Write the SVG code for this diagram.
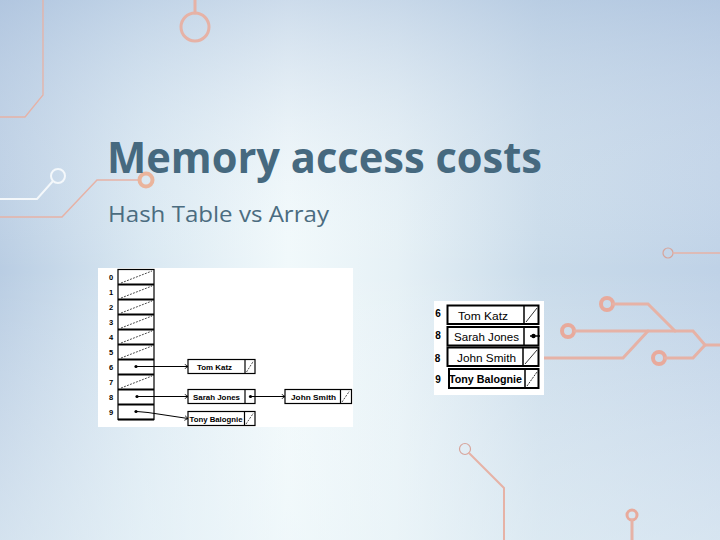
<svg xmlns="http://www.w3.org/2000/svg" width="720" height="540" viewBox="0 0 720 540">
<defs>
<linearGradient id="bg" x1="0" y1="0" x2="1" y2="0">
<stop offset="0" stop-color="#b9cde3"/>
<stop offset="0.2" stop-color="#d9e8f2"/>
<stop offset="0.4" stop-color="#f1f9fb"/>
<stop offset="0.55" stop-color="#e6f1f6"/>
<stop offset="0.75" stop-color="#c9dbea"/>
<stop offset="1" stop-color="#bfd2e7"/>
</linearGradient>
<linearGradient id="fade" x1="0" y1="0" x2="0" y2="1">
<stop offset="0" stop-color="#a9bfdc" stop-opacity="0.5"/>
<stop offset="0.5" stop-color="#ffffff" stop-opacity="0"/>
<stop offset="1" stop-color="#eef7fa" stop-opacity="0.5"/>
</linearGradient>
<marker id="arr" viewBox="0 0 6 8" refX="5.5" refY="4" markerWidth="4" markerHeight="5.5" orient="auto" markerUnits="userSpaceOnUse">
<path d="M0.5,0.5 L5.5,4 L0.5,7.5" fill="none" stroke="#000" stroke-width="1.2"/>
</marker>
</defs>
<style>
.deco{fill:none;stroke:#e6b2a6;stroke-linecap:round}
.thin{stroke-width:1.5}
.thick{stroke-width:3.5}
.cell{fill:#fff;stroke:#000;stroke-width:1.2}
.rcell{fill:#fff;stroke:#000;stroke-width:2}
.sep{stroke:#000;stroke-width:1.2}
.nil{stroke:#000;stroke-width:0.7;stroke-dasharray:2 1.2}
.lt{font-family:"Liberation Sans",Arial,sans-serif;font-size:7.5px;font-weight:bold;fill:#000}
.rt{font-family:"Liberation Sans",Arial,sans-serif;font-size:10.5px;fill:#000}
.dg{font-family:"Liberation Sans",Arial,sans-serif;font-size:7.5px;font-weight:bold;fill:#000;text-anchor:middle}
.rd{font-family:"Liberation Sans",Arial,sans-serif;font-size:10px;font-weight:bold;fill:#000;text-anchor:middle}
.con{fill:none;stroke:#000;stroke-width:1}
</style>
<rect width="720" height="540" fill="url(#bg)"/>
<rect width="720" height="540" fill="url(#fade)"/>

<g id="decorations">
<path class="deco" stroke-width="1.3" stroke="#d9b6ae" d="M43,0 V95 L25,117 H0"/>
<path class="deco" stroke-width="3" d="M195,0 V13" stroke="#f0d2c6"/>
<circle class="deco" cx="195" cy="27" r="14" stroke="#f0d2c6" stroke-width="3"/>
<circle cx="58" cy="176" r="7" fill="none" stroke="#f4f8fb" stroke-width="2"/>
<path d="M53,181 L37,199 H0" fill="none" stroke="#f4f8fb" stroke-width="2"/>
<path class="deco thin" d="M0,217 H62 L97,180 H139" stroke="#e3c3b8"/>
<circle cx="146" cy="180" r="6.5" fill="none" stroke="#eab49c" stroke-width="4"/>
<circle cx="668" cy="253" r="5" fill="none" stroke="#d7a59c" stroke-width="1.2"/>
<path class="deco thin" d="M673,253 H720"/>
<circle cx="607" cy="304" r="6" fill="none" stroke="#e8aa9c" stroke-width="4"/>
<path class="deco" stroke-width="3" d="M613,304 H648 L675,331"/>
<circle cx="568" cy="331" r="6" fill="none" stroke="#e8aa9c" stroke-width="4"/>
<path class="deco" stroke-width="3" d="M575,331 H693 L705,345 H720"/>
<path class="deco" stroke-width="3" d="M544,358 H623 L648,331"/>
<circle cx="659" cy="358" r="6" fill="none" stroke="#e8aa9c" stroke-width="4"/>
<path class="deco" stroke-width="3" d="M665,358 H693 L705,345"/>
<circle cx="465" cy="449" r="5.5" fill="none" stroke="#d7a59c" stroke-width="1.2"/>
<path class="deco" stroke-width="2" stroke="#e3bdb3" d="M469,453 L504,488 V540"/>
<circle cx="632" cy="515" r="5" fill="none" stroke="#e8aa9c" stroke-width="3"/>
<path class="deco" stroke-width="3" d="M632,520 V540"/>
</g>

<g id="title">
<text x="107" y="173" font-family="'Open Sans','Noto Sans',sans-serif" font-weight="bold" font-size="43" fill="#46697f" textLength="435" lengthAdjust="spacingAndGlyphs">Memory access costs</text>
<text x="108" y="222" font-family="'Open Sans','Noto Sans',sans-serif" font-size="22" fill="#4b6c80" textLength="221" lengthAdjust="spacingAndGlyphs">Hash Table vs Array</text>
</g>

<g id="hash-table">
<rect x="98" y="268" width="255" height="159" fill="#fff"/>
<rect x="118" y="269.5" width="36" height="150" class="cell"/>
<g stroke="#000" stroke-width="2">
<line x1="118" y1="284.5" x2="154" y2="284.5"/>
<line x1="118" y1="299.5" x2="154" y2="299.5"/>
<line x1="118" y1="314.5" x2="154" y2="314.5"/>
<line x1="118" y1="329.5" x2="154" y2="329.5"/>
<line x1="118" y1="344.5" x2="154" y2="344.5"/>
<line x1="118" y1="359.5" x2="154" y2="359.5"/>
<line x1="118" y1="374.5" x2="154" y2="374.5"/>
<line x1="118" y1="389.5" x2="154" y2="389.5"/>
<line x1="118" y1="404.5" x2="154" y2="404.5"/>
<line x1="118" y1="419.5" x2="154" y2="419.5"/>
</g>
<g class="nil">
<line x1="121" y1="283" x2="152" y2="271"/>
<line x1="121" y1="298" x2="152" y2="286"/>
<line x1="121" y1="313" x2="152" y2="301"/>
<line x1="121" y1="328" x2="152" y2="316"/>
<line x1="121" y1="343" x2="152" y2="331"/>
<line x1="121" y1="358" x2="152" y2="346"/>
<line x1="121" y1="388" x2="152" y2="376"/>
</g>
<circle cx="136" cy="366.5" r="1.6"/>
<circle cx="137" cy="396.5" r="1.6"/>
<circle cx="136" cy="411.5" r="1.6"/>
<text class="dg" x="111" y="280">0</text>
<text class="dg" x="111" y="295">1</text>
<text class="dg" x="111" y="310">2</text>
<text class="dg" x="111" y="325">3</text>
<text class="dg" x="111" y="340">4</text>
<text class="dg" x="111" y="355">5</text>
<text class="dg" x="111" y="370">6</text>
<text class="dg" x="111" y="385">7</text>
<text class="dg" x="111" y="400">8</text>
<text class="dg" x="111" y="415">9</text>
</g>

<g id="node-tom-katz">
<rect x="188" y="359.5" width="67" height="14" class="cell"/>
<line x1="245" y1="359.5" x2="245" y2="373.5" class="sep"/>
<line x1="246.5" y1="372" x2="253.5" y2="361" class="nil"/>
<text class="lt" x="197" y="369.5" textLength="35" lengthAdjust="spacingAndGlyphs">Tom Katz</text>
</g>
<g id="node-sarah-jones">
<rect x="188" y="389.5" width="67" height="14" class="cell"/>
<line x1="245" y1="389.5" x2="245" y2="403.5" class="sep"/>
<circle cx="250.5" cy="396.5" r="1.6"/>
<text class="lt" x="193" y="399.5" textLength="47" lengthAdjust="spacingAndGlyphs">Sarah Jones</text>
</g>
<g id="node-john-smith">
<rect x="285" y="389.5" width="66.5" height="14" class="cell"/>
<line x1="340.5" y1="389.5" x2="340.5" y2="403.5" class="sep"/>
<line x1="342" y1="402" x2="349.5" y2="391" class="nil"/>
<text class="lt" x="291" y="399.5" textLength="45" lengthAdjust="spacingAndGlyphs">John Smith</text>
</g>
<g id="node-tony-balognie">
<rect x="188" y="411.5" width="67" height="14" class="cell"/>
<line x1="244.5" y1="411.5" x2="244.5" y2="425.5" class="sep"/>
<line x1="246" y1="424" x2="253.5" y2="413" class="nil"/>
<text class="lt" x="189.5" y="421.5" textLength="53" lengthAdjust="spacingAndGlyphs">Tony Balognie</text>
</g>

<g id="connectors">
<line x1="137" y1="366.5" x2="188" y2="366.5" class="con" marker-end="url(#arr)"/>
<line x1="138" y1="396.5" x2="188" y2="396.5" class="con" marker-end="url(#arr)"/>
<line x1="251.5" y1="396.5" x2="285" y2="396.5" class="con" marker-end="url(#arr)"/>
<polyline points="137,411.5 148,412.5 188,418.5" class="con" marker-end="url(#arr)"/>
</g>

<g id="array">
<rect x="434" y="301" width="110" height="94" fill="#fff"/>
<text class="rd" x="438" y="317">6</text>
<text class="rd" x="438" y="339">8</text>
<text class="rd" x="437.5" y="361.5">8</text>
<text class="rd" x="438" y="383">9</text>
</g>
<g id="array-tom-katz">
<rect x="447.5" y="305.5" width="91" height="18.5" class="rcell"/>
<line x1="524" y1="305.5" x2="524" y2="324" stroke="#000" stroke-width="1.5"/>
<line x1="526" y1="322" x2="537" y2="308" stroke="#000" stroke-width="0.8"/>
<text class="rt" x="458" y="320" textLength="50" lengthAdjust="spacingAndGlyphs">Tom Katz</text>
</g>
<g id="array-sarah-jones">
<rect x="447.5" y="327" width="91" height="18.5" class="rcell"/>
<line x1="524" y1="327" x2="524" y2="345.5" stroke="#000" stroke-width="1.5"/>
<circle cx="533.5" cy="336" r="2.2"/>
<line x1="530" y1="336" x2="540" y2="336" stroke="#000" stroke-width="1.5"/>
<text class="rt" x="454" y="341" textLength="65" lengthAdjust="spacingAndGlyphs">Sarah Jones</text>
</g>
<g id="array-john-smith">
<rect x="447.5" y="347.5" width="91" height="18.5" class="rcell"/>
<line x1="523" y1="347.5" x2="523" y2="366" stroke="#000" stroke-width="1.5"/>
<line x1="525" y1="364" x2="537" y2="350" stroke="#000" stroke-width="0.8"/>
<text class="rt" x="457" y="362" textLength="59" lengthAdjust="spacingAndGlyphs">John Smith</text>
</g>
<g id="array-tony-balognie">
<rect x="449" y="369" width="89.5" height="19" class="rcell"/>
<line x1="525" y1="369" x2="525" y2="388" stroke="#000" stroke-width="1.5"/>
<line x1="527" y1="386" x2="537" y2="372" stroke="#000" stroke-width="0.8" stroke-dasharray="2 1"/>
<text class="rt" x="449" y="383" font-weight="bold" textLength="73" lengthAdjust="spacingAndGlyphs">Tony Balognie</text>
</g>
</svg>
